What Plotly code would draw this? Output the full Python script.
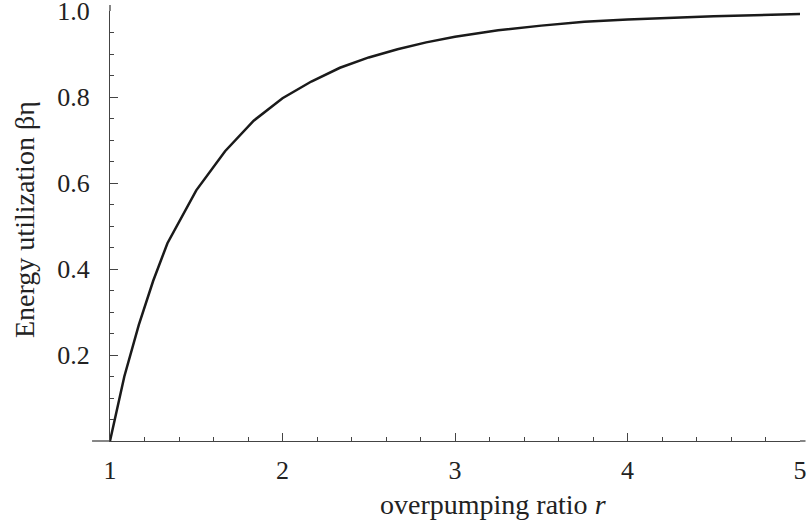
import plotly.graph_objects as go

# overpumping ratio r (sample points) and energy utilization
r_vals = [1.0, 1.083, 1.167, 1.25, 1.333, 1.5, 1.667, 1.833, 2.0, 2.167, 2.333,
          2.5, 2.667, 2.833, 3.0, 3.25, 3.5, 3.75, 4.0, 4.5, 5.0]
eta_vals = [0.0, 0.150, 0.270, 0.372, 0.460, 0.583, 0.674, 0.745, 0.797, 0.836, 0.868,
            0.892, 0.911, 0.927, 0.940, 0.955, 0.966, 0.975, 0.980, 0.988, 0.993]

x_ticks = [1, 2, 3, 4, 5]
x_tick_text = ["1", "2", "3", "4", "5"]
y_ticks = [0.2, 0.4, 0.6, 0.8, 1.0]
y_tick_text = ["0.2", "0.4", "0.6", "0.8", "1.0"]

x_title = "overpumping ratio <i>r</i>"
y_title = "Energy utilization βη"

FONT = "Liberation Serif"
AX = "#444444"
TXT = "#222222"

fig = go.Figure()
fig.add_trace(go.Scatter(x=r_vals, y=eta_vals, mode="lines",
                         line=dict(color="#1a1a1a", width=2.5),
                         hoverinfo="skip", showlegend=False, cliponaxis=False))

fig.update_layout(
    width=809, height=527,
    margin=dict(l=110, r=9, t=11, b=86, autoexpand=False),
    paper_bgcolor="white", plot_bgcolor="white",
    font=dict(family=FONT, size=26, color=TXT),
    xaxis=dict(range=[1, 5], tickvals=x_ticks, ticktext=x_tick_text, automargin=False,
               showgrid=False, zeroline=False, showline=True, linecolor=AX, linewidth=1.3,
               ticks="inside", ticklen=8, tickwidth=1.2, tickcolor=AX,
               minor=dict(dtick=0.2, tick0=1, ticks="inside", ticklen=4, tickcolor=AX, tickwidth=1),
               ticklabelstandoff=6, ticklabeloverflow="allow"),
    yaxis=dict(range=[0, 1.0], tickvals=y_ticks, ticktext=y_tick_text, automargin=False,
               showgrid=False, zeroline=False, showline=True, linecolor=AX, linewidth=1.3,
               ticks="inside", ticklen=8, tickwidth=1.2, tickcolor=AX,
               minor=dict(dtick=0.05, tick0=0, ticks="inside", ticklen=4, tickcolor=AX, tickwidth=1),
               ticklabelstandoff=14, ticklabeloverflow="allow"),
)

fig.add_annotation(text=x_title, xref="paper", yref="paper",
                   x=(493 - 110) / 690, y=(441 - 487) / 430,
                   xanchor="center", yanchor="top", showarrow=False,
                   font=dict(family=FONT, size=28, color=TXT))
fig.add_annotation(text=y_title, xref="paper", yref="paper", textangle=-90,
                   x=(24 - 110) / 690, y=(441 - 220) / 430,
                   xanchor="center", yanchor="middle", showarrow=False,
                   font=dict(family=FONT, size=28, color=TXT))

# small axis-line overhangs (as in the original frameless axes)
fig.add_shape(type="line", xref="paper", yref="paper", x0=-0.026, x1=0, y0=0, y1=0,
              line=dict(color=AX, width=1.3))
fig.add_shape(type="line", xref="paper", yref="paper", x0=1, x1=1.008, y0=0, y1=0,
              line=dict(color=AX, width=1.3))
fig.add_shape(type="line", xref="paper", yref="paper", x0=0, x1=0, y0=1, y1=1.014,
              line=dict(color=AX, width=1.3))

fig.write_html("out.html")
